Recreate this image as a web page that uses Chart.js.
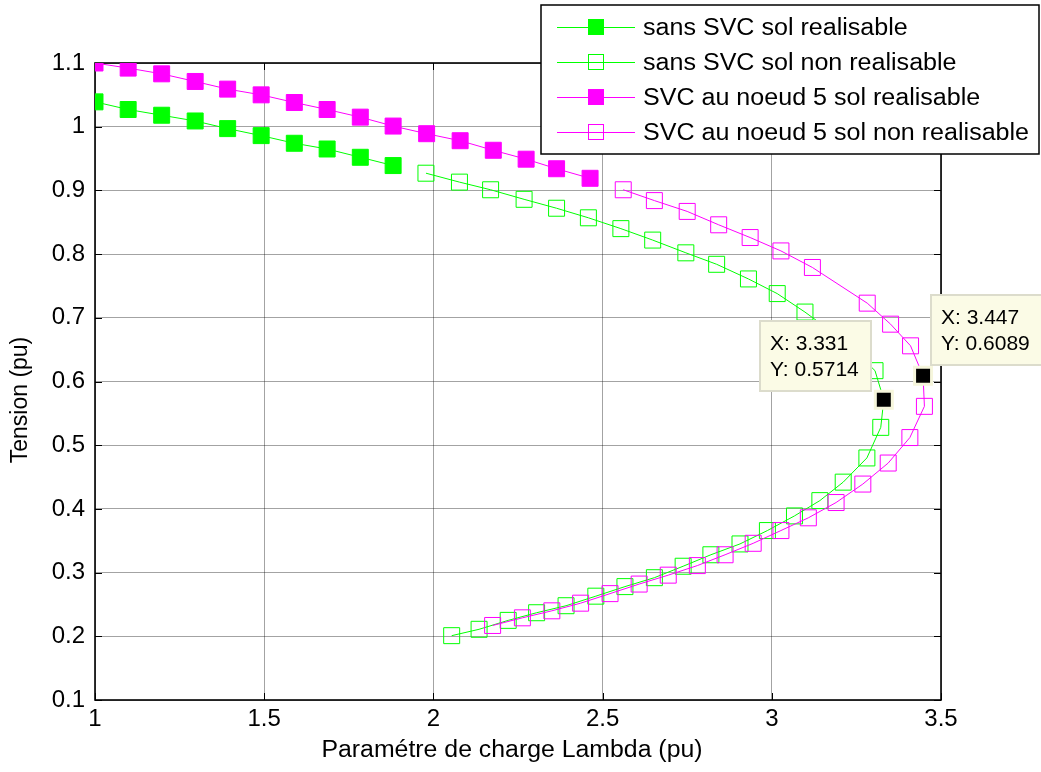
<!DOCTYPE html>
<html>
<head>
<meta charset="utf-8">
<title>Tension vs Lambda</title>
<script src="https://cdn.jsdelivr.net/npm/chart.js@4.4.1/dist/chart.umd.min.js"></script>
<style>
  html, body { margin: 0; padding: 0; background: #fff; }
  #wrap { width: 1041px; height: 772px; }
</style>
</head>
<body>
<div id="wrap"><canvas id="pvChart" width="1041" height="772"></canvas></div>
<script>
// ── DATA ──────────────────────────────────────────────────────────
const lambdaSansReal  = [1.000, 1.098, 1.197, 1.296, 1.392, 1.491, 1.589, 1.686, 1.784, 1.881];
const tensionSansReal = [1.039, 1.027, 1.018, 1.009, 0.997, 0.986, 0.974, 0.965, 0.952, 0.939];

const lambdaSansNon  = [1.978, 2.077, 2.169, 2.268, 2.364, 2.458, 2.554, 2.648, 2.746, 2.837, 2.931, 3.016,
                        3.098, 3.175, 3.246, 3.305, 3.331, 3.322, 3.281, 3.211, 3.142, 3.067, 2.987, 2.906,
                        2.820, 2.738, 2.653, 2.566, 2.480, 2.392, 2.305, 2.221, 2.135, 2.054];
const tensionSansNon = [0.927, 0.913, 0.901, 0.886, 0.872, 0.857, 0.840, 0.822, 0.802, 0.784, 0.761, 0.738,
                        0.709, 0.679, 0.648, 0.617, 0.5714, 0.528, 0.480, 0.442, 0.413, 0.389, 0.366, 0.345,
                        0.328, 0.310, 0.292, 0.278, 0.263, 0.248, 0.237, 0.225, 0.211, 0.201];

const lambdaSvcReal  = [1.000, 1.098, 1.197, 1.296, 1.392, 1.491, 1.589, 1.686, 1.784, 1.881, 1.980, 2.079, 2.177, 2.274, 2.364, 2.463];
const tensionSvcReal = [1.100, 1.092, 1.083, 1.071, 1.059, 1.050, 1.038, 1.027, 1.015, 1.001, 0.989, 0.978, 0.963, 0.949, 0.934, 0.919];

const lambdaSvcNon  = [2.561, 2.653, 2.750, 2.843, 2.936, 3.027, 3.120, 3.282, 3.351, 3.410, 3.447, 3.451,
                       3.408, 3.344, 3.269, 3.190, 3.108, 3.027, 2.945, 2.862, 2.780, 2.694, 2.608, 2.522,
                       2.435, 2.350, 2.263, 2.175];
const tensionSvcNon = [0.901, 0.884, 0.867, 0.846, 0.826, 0.805, 0.779, 0.723, 0.690, 0.656, 0.6089, 0.561,
                       0.512, 0.472, 0.439, 0.410, 0.386, 0.366, 0.346, 0.328, 0.311, 0.296, 0.282, 0.267,
                       0.252, 0.240, 0.229, 0.217];

// data tips (MATLAB datacursor)
const tipLambda  = [3.331, 3.447];
const tipTension = [0.5714, 0.6089];

const xTicks = [1, 1.5, 2, 2.5, 3, 3.5];
const yTicks = [0.1, 0.2, 0.3, 0.4, 0.5, 0.6, 0.7, 0.8, 0.9, 1, 1.1];

const GREEN = '#00ff00';
const MAGENTA = '#ff00ff';
const FONT = "'Liberation Sans', Arial, sans-serif";

const toPts = (xs, ys) => xs.map((x, i) => ({ x: x, y: ys[i] }));

function curve(label, xs, ys, color, filled, order) {
    return {
        label: label,
        data: toPts(xs, ys),
        showLine: true,
        borderColor: color,
        borderWidth: 1,
        tension: 0,
        pointStyle: 'rect',
        pointRadius: 11.3,
        pointHoverRadius: 11.3,
        pointBorderWidth: 1,
        pointBorderColor: color,
        pointBackgroundColor: filled ? color : 'rgba(0,0,0,0)',
        _filled: filled,
        order: order
    };
}

// text slightly widened, like the exported figure
function wideText(ctx, text, x, y, sx) {
    ctx.save();
    ctx.translate(x, y);
    ctx.scale(sx, 1);
    ctx.fillText(text, 0, 0);
    ctx.restore();
}

// ── PLUGIN: axes box, inward ticks, titles, legend, data tips ────
const axesBox = {
    id: 'axesBox',
    beforeDatasetsDraw(chart) {
        const { ctx, chartArea: a, scales: { x, y } } = chart;
        ctx.save();
        ctx.strokeStyle = '#000';
        ctx.lineWidth = 1;
        ctx.beginPath();
        xTicks.forEach(v => {
            const px = Math.round(x.getPixelForValue(v)) + 0.5;
            ctx.moveTo(px, a.bottom); ctx.lineTo(px, a.bottom - 7);
            ctx.moveTo(px, a.top); ctx.lineTo(px, a.top + 7);
        });
        yTicks.forEach(v => {
            const py = Math.round(y.getPixelForValue(v)) + 0.5;
            ctx.moveTo(a.left, py); ctx.lineTo(a.left + 7, py);
            ctx.moveTo(a.right, py); ctx.lineTo(a.right - 7, py);
        });
        ctx.stroke();
        ctx.lineWidth = 1.6;
        ctx.strokeRect(a.left, a.top, a.right - a.left, a.bottom - a.top);

        // axis titles
        ctx.fillStyle = '#000';
        ctx.font = `23px ${FONT}`;
        ctx.textAlign = 'center';
        ctx.textBaseline = 'middle';
        wideText(ctx, 'Paramétre de charge Lambda (pu)', (a.left + a.right) / 2 - 6, 751, 1.08);
        ctx.translate(21, 400);
        ctx.rotate(-Math.PI / 2);
        ctx.fillText('Tension (pu)', 0, 0);
        ctx.restore();
    },
    afterDraw(chart) {
        const { ctx, scales: { x, y } } = chart;
        ctx.save();

        // ── legend ──
        const lx = 541, ly = 5, lw = 498, lh = 149;
        ctx.fillStyle = '#fff';
        ctx.fillRect(lx, ly, lw, lh);
        ctx.strokeStyle = '#000';
        ctx.lineWidth = 1.5;
        ctx.strokeRect(lx, ly, lw, lh);
        const rows = chart.data.datasets.filter(d => !d._tip);
        rows.forEach((d, i) => {
            const cy = 27 + i * 35;
            ctx.strokeStyle = d.borderColor;
            ctx.lineWidth = 1;
            ctx.beginPath();
            ctx.moveTo(557, cy + 0.5); ctx.lineTo(635, cy + 0.5);
            ctx.stroke();
            if (d._filled) {
                ctx.fillStyle = d.borderColor;
                ctx.fillRect(588, cy - 8, 16, 16);
            } else {
                ctx.strokeRect(588.5, cy - 7.5, 15, 15);
            }
            ctx.fillStyle = '#000';
            ctx.font = `23px ${FONT}`;
            ctx.textAlign = 'left';
            ctx.textBaseline = 'middle';
            wideText(ctx, d.label, 643, cy + 2, 1.09);
        });

        // ── data tip boxes ──
        const boxes = [
            { dx: -124, dy: -79 },
            { dx: 8, dy: -81 }
        ];
        tipLambda.forEach((v, i) => {
            const px = x.getPixelForValue(v);
            const py = y.getPixelForValue(tipTension[i]);
            const bx = Math.round(px + boxes[i].dx), by = Math.round(py + boxes[i].dy);
            const bw = 111, bh = 70;
            ctx.fillStyle = '#fbfbe6';
            ctx.fillRect(bx, by, bw, bh);
            ctx.strokeStyle = '#dcdccc';
            ctx.lineWidth = 2;
            ctx.strokeRect(bx, by, bw, bh);
            ctx.fillStyle = '#000';
            ctx.font = `21px ${FONT}`;
            ctx.textAlign = 'left';
            ctx.textBaseline = 'alphabetic';
            ctx.fillText('X: ' + v, bx + 10, by + 29);
            ctx.fillText('Y: ' + tipTension[i], bx + 10, by + 55);
        });
        ctx.restore();
    }
};

const tickFont = { family: FONT, size: 24 };
const gridStyle = { color: 'rgba(0,0,0,0.36)', lineWidth: 1, drawTicks: false };

new Chart(document.getElementById('pvChart'), {
    type: 'scatter',
    data: {
        datasets: [
            curve('sans SVC sol realisable', lambdaSansReal, tensionSansReal, GREEN, true, 4),
            curve('sans SVC sol non realisable', lambdaSansNon, tensionSansNon, GREEN, false, 3),
            curve('SVC au noeud 5 sol realisable', lambdaSvcReal, tensionSvcReal, MAGENTA, true, 2),
            curve('SVC au noeud 5 sol non realisable', lambdaSvcNon, tensionSvcNon, MAGENTA, false, 1),
            {
                label: 'data tips',
                _tip: true,
                data: toPts(tipLambda, tipTension),
                showLine: false,
                pointStyle: 'rect',
                pointRadius: 12,
                pointHoverRadius: 12,
                pointBackgroundColor: '#000',
                pointBorderColor: '#f6f6dc',
                pointBorderWidth: 3,
                order: 0
            }
        ]
    },
    options: {
        responsive: false,
        animation: false,
        events: [],
        layout: { padding: { top: 63, right: 100, left: 0, bottom: 0 } },
        plugins: { legend: { display: false }, tooltip: { enabled: false } },
        scales: {
            x: {
                type: 'linear',
                min: 1, max: 3.5,
                afterFit: s => { s.height = 72; },
                afterBuildTicks: s => { s.ticks = xTicks.map(v => ({ value: v })); },
                ticks: { font: tickFont, color: '#000', padding: 5, maxRotation: 0, callback: v => String(+v.toFixed(2)) },
                grid: gridStyle,
                border: { display: false }
            },
            y: {
                type: 'linear',
                min: 0.1, max: 1.1,
                afterFit: s => { s.width = 95; },
                afterBuildTicks: s => { s.ticks = yTicks.map(v => ({ value: v })); },
                ticks: { font: tickFont, color: '#000', padding: 10, callback: v => String(+v.toFixed(2)) },
                grid: gridStyle,
                border: { display: false }
            }
        }
    },
    plugins: [axesBox]
});
</script>
</body>
</html>
